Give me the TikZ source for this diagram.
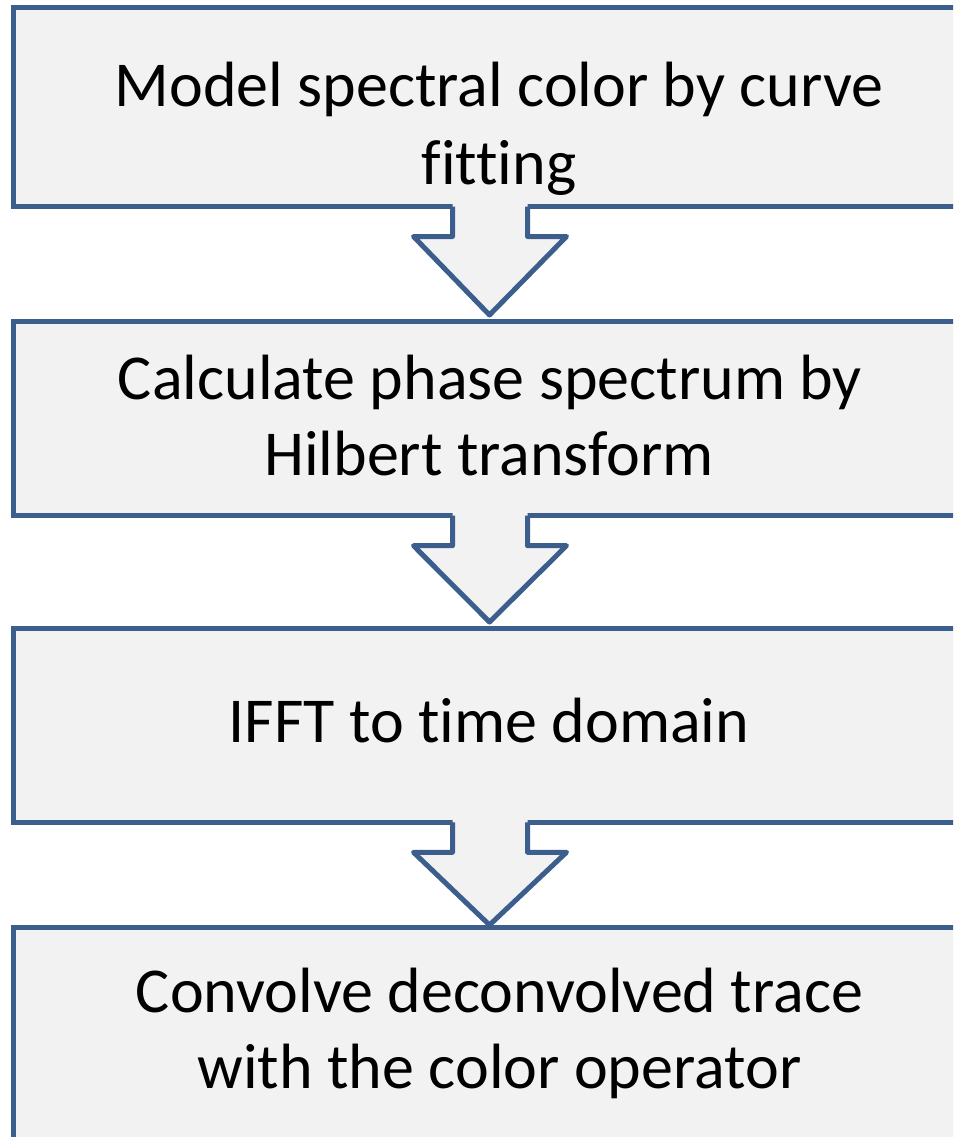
\documentclass[tikz,border=0pt]{standalone}
\usepackage{fontspec}
\setmainfont{Carlito}[Ligatures=NoCommon]
\usetikzlibrary{calc}
\definecolor{edgeblue}{RGB}{59,94,140}
\definecolor{boxfill}{RGB}{242,242,242}
\newcommand\flowarrow[3]{%
  \fill[boxfill] ($(#1.south)+(-37.5,-3)$) -- ($(#1.south)+(-37.5,30)$) -- ($(#1.south)+(-76.5,30)$)
    -- ($(#2.north)+(-0.5,-#3)$) -- ($(#1.south)+(76.5,30)$) -- ($(#1.south)+(37.5,30)$)
    -- ($(#1.south)+(37.5,-3)$) -- cycle;
  \draw[arrowline] ($(#1.south)+(-37.5,0)$) -- ($(#1.south)+(-37.5,30)$) -- ($(#1.south)+(-76.5,30)$)
    -- ($(#2.north)+(-0.5,-#3)$) -- ($(#1.south)+(76.5,30)$) -- ($(#1.south)+(37.5,30)$)
    -- ($(#1.south)+(37.5,0)$);%
}
\begin{document}
\begin{tikzpicture}[x=1pt,y=-1pt,
  stepbox/.style={draw=edgeblue, fill=boxfill, line width=5pt, rectangle, inner sep=0pt,
    outer sep=0pt, minimum width=954pt, anchor=north west},
  arrowline/.style={draw=edgeblue, line width=5pt, line join=round},
  steptext/.style={anchor=base, inner sep=0pt, font=\fontsize{64}{77}\selectfont},
  ]
\useasboundingbox (0,0) rectangle (953,1137);
\clip (0,0) rectangle (953,1137);
\node[stepbox, minimum height=199pt] (b1) at (13,7.5) {};
\node[stepbox, minimum height=194.2pt] (b2) at (13,321.5) {};
\node[stepbox, minimum height=194.3pt] (b3) at (13,628) {};
\node[stepbox, minimum height=240pt] (b4) at (13,927) {};
\flowarrow{b1}{b2}{6.5}
\flowarrow{b2}{b3}{6}
\flowarrow{b3}{b4}{2}
\node[steptext] (t1a) at (499,107) {Model spectral color by curve};
\node[steptext] (t1b) at (499,184) {fitting};
\node[steptext] (t2a) at (490,399) {Calculate phase spectrum by};
\node[steptext] (t2b) at (489,475) {Hilbert transform};
\node[steptext] (t3) at (489,742) {IFFT to time domain};
\node[steptext] (t4a) at (499.5,1012) {Convolve deconvolved trace};
\node[steptext] (t4b) at (499.5,1088) {with the color operator};
\end{tikzpicture}
\end{document}
